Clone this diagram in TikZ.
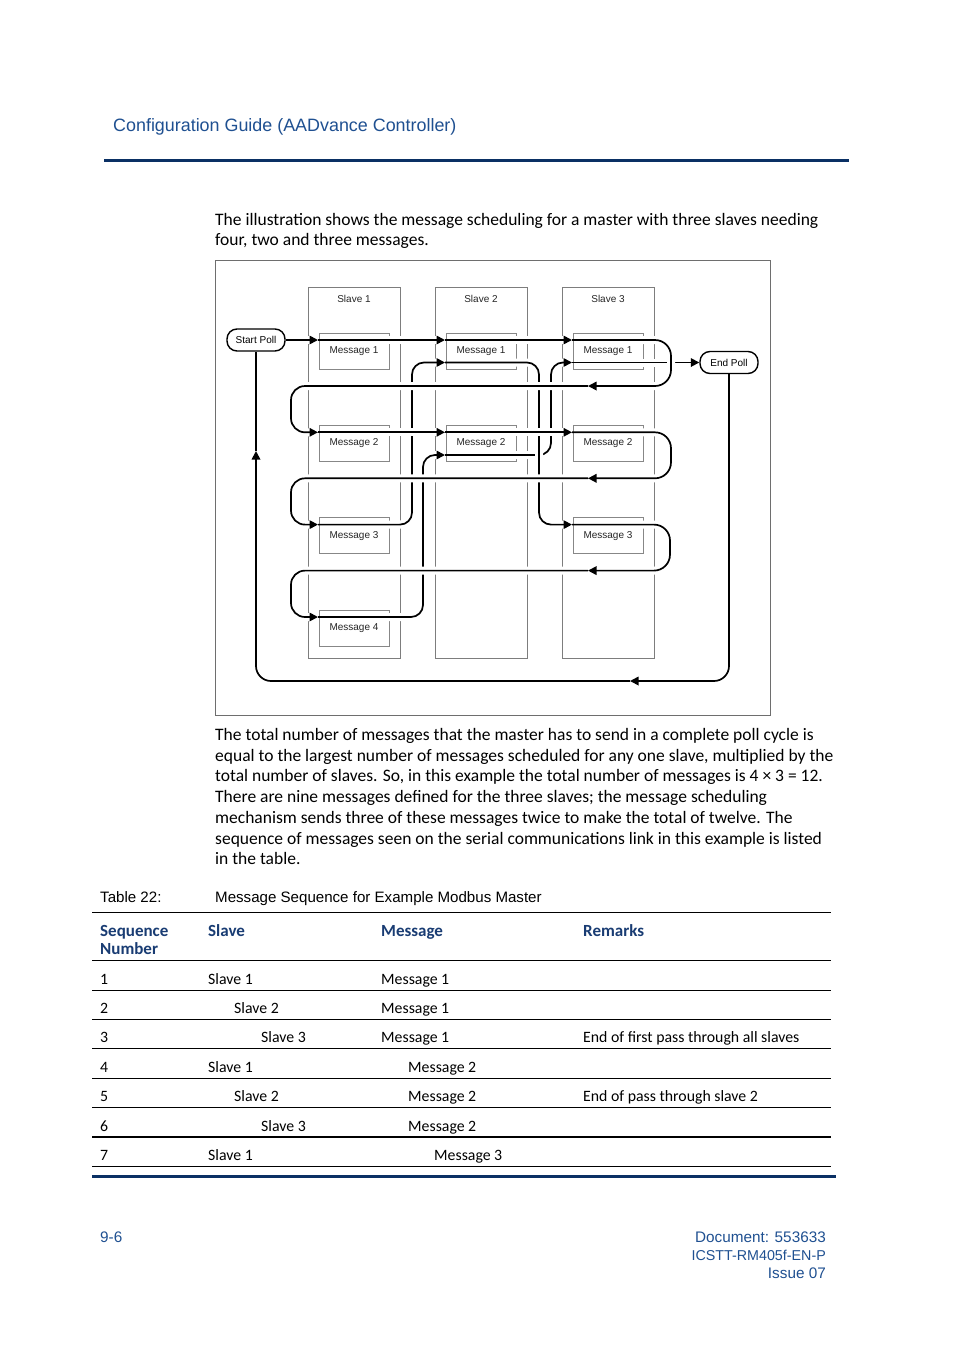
\documentclass[tikz,border=0pt]{standalone}
\usepackage{fontspec}
\setmainfont{Carlito}
\newfontfamily\hfont{Liberation Sans}
\usetikzlibrary{arrows.meta,calc}
\definecolor{hdrblue}{RGB}{31,80,145}
\definecolor{navy}{RGB}{10,48,100}
\definecolor{thblue}{RGB}{25,60,115}
\definecolor{colgray}{RGB}{125,125,125}
\definecolor{boxgray}{RGB}{135,135,135}
\definecolor{framegray}{RGB}{110,110,110}
\begin{document}
\begin{tikzpicture}[x=1pt,y=-1pt,
  flow/.style={line width=1.7pt, black, rounded corners=#1,
     preaction={draw=white, line width=8pt, arrows=-, shorten <=2pt, shorten >=2pt}},
  flow/.default=14pt,
  arr/.style={-{Triangle[length=8.5pt,width=8.5pt]}},
  colline/.style={draw=colgray, line width=0.9pt},
  msg/.style={draw=boxgray, line width=0.9pt, minimum width=70pt, minimum height=36pt,
     inner sep=0pt, text=black!85, font=\hfont\fontsize{10}{12}\selectfont},
  lab/.style={inner sep=0pt, text=black!85, font=\hfont\fontsize{10}{12}\selectfont},
  poll/.style={draw=black, line width=1.4pt, rounded corners=10pt, minimum width=58pt,
     minimum height=22pt, inner sep=0pt, font=\hfont\fontsize{10}{12}\selectfont},
  body/.style={anchor=base west, inner sep=0pt, font=\fontsize{17.5}{20}\selectfont},
  tb/.style={anchor=base west, inner sep=0pt, font=\fontsize{15.8}{18}\selectfont},
  th/.style={anchor=base west, inner sep=0pt, text=thblue, font=\bfseries\fontsize{17}{18}\selectfont},
  foot/.style={inner sep=0pt, text=hdrblue, font=\hfont\fontsize{15.3}{18}\selectfont},
  rule/.style={draw=black, line width=1pt}
]
\useasboundingbox[fill=white] (0,0) rectangle (954,1349);

% ---------- header ----------
\node[anchor=base west, inner sep=0pt, text=hdrblue, font=\hfont\fontsize{17.9}{20}\selectfont] (hdr) at (113,131) {Configuration Guide (AADvance Controller)};
\draw[navy, line width=3pt] (104,160) -- (849,160);

% ---------- paragraph 1 ----------
\node[body] (p1a) at (215,225) {The illustration shows the message scheduling for a master with three slaves needing};
\node[body] (p1b) at (215,245.6) {four, two and three messages.};

% ---------- diagram ----------
\draw[draw=framegray, line width=1pt] (215,260) rectangle (770,715);
\draw[colline] (308,287) rectangle (400,658);
\draw[colline] (435,287) rectangle (527,658);
\draw[colline] (562,287) rectangle (654,658);
\node[lab] (s1) at (354,299) {Slave 1};
\node[lab] (s2) at (481,299) {Slave 2};
\node[lab] (s3) at (608,299) {Slave 3};

\node[msg] (m11) at (354,351) {Message 1};
\node[msg] (m21) at (481,351) {Message 1};
\node[msg] (m31) at (608,351) {Message 1};
\node[msg] (m12) at (354,443.3) {Message 2};
\node[msg] (m22) at (481,443.3) {Message 2};
\node[msg] (m32) at (608,443.3) {Message 2};
\node[msg] (m13) at (354,535.6) {Message 3};
\node[msg] (m33) at (608,535.6) {Message 3};
\node[msg] (m14) at (354,628) {Message 4};

\node[poll] (startp) at (256,340) {Start Poll};
\node[poll] (endp) at (729,362.5) {End Poll};

\coordinate (in11) at (318,340);
\coordinate (in21) at (445,340);
\coordinate (in31) at (572,340);
\coordinate (in12) at (318,432.3);
\coordinate (in22) at (445,432.3);
\coordinate (in32) at (572,432.3);
\coordinate (in13) at (318,524.6);
\coordinate (in33) at (572,524.6);
\coordinate (in14) at (318,617);
\coordinate (in21b) at (445,362.5);
\coordinate (in22b) at (445,455);
\coordinate (in31b) at (572,362.5);
\coordinate (ret1) at (588,386);
\coordinate (ret2) at (588,478.3);
\coordinate (ret3) at (588,570.6);
\coordinate (b1) at (630,681);
\coordinate (b2) at (256,451);

% vertical links (underneath)
\draw[flow=12pt,arr] (in22b) -- (551,455) -- (551,362.5) -- (in31b);
\draw[flow=12pt,arr] (in21b) -- (539,362.5) -- (539,524.6) -- (in33);
\draw[flow=12pt,arr] (in13) -- (412,524.6) -- (412,362.5) -- (in21b);
\draw[flow=12pt,arr] (in14) -- (423,617) -- (423,455) -- (in22b);
\draw[flow,arr] (in31b) -- (endp.west);

% return to start
\draw[flow=15pt,arr] (endp.south) -- (729,681) -- (b1);
\draw[flow=15pt,arr] (b1) -- (256,681) -- (b2);
\draw[flow] (b2) -- (startp.south);

% row passes (on top)
\draw[flow,arr] (startp.east) -- (in11);
\draw[flow,arr] (in11) -- (in21);
\draw[flow,arr] (in21) -- (in31);
\draw[flow=16pt,arr] (in31) -- (671,340) -- (671,386) -- (ret1);
\draw[flow,arr] (ret1) -- (291,386) -- (291,432.3) -- (in12);
\draw[flow,arr] (in12) -- (in22);
\draw[flow,arr] (in22) -- (in32);
\draw[flow=16pt,arr] (in32) -- (671,432.3) -- (671,478.3) -- (ret2);
\draw[flow,arr] (ret2) -- (291,478.3) -- (291,524.6) -- (in13);
\draw[flow=16pt,arr] (in33) -- (670,524.6) -- (670,570.6) -- (ret3);
\draw[flow,arr] (ret3) -- (291,570.6) -- (291,617) -- (in14);

% ---------- paragraph 2 ----------
\node[body] (p2a) at (215,740.5) {The total number of messages that the master has to send in a complete poll cycle is};
\node[body] (p2b) at (215,761.2) {equal to the largest number of messages scheduled for any one slave, multiplied by the};
\node[body] (p2c) at (215,781.9) {total number of slaves. So, in this example the total number of messages is 4 × 3 = 12.};
\node[body] (p2d) at (215,802.6) {There are nine messages defined for the three slaves; the message scheduling};
\node[body] (p2e) at (215,823.3) {mechanism sends three of these messages twice to make the total of twelve. The};
\node[body] (p2f) at (215,844) {sequence of messages seen on the serial communications link in this example is listed};
\node[body] (p2g) at (215,864.7) {in the table.};

% ---------- table ----------
\node[anchor=base west, inner sep=0pt, font=\hfont\fontsize{15.1}{18}\selectfont] (tcap) at (100,902.7) {Table 22:};
\node[anchor=base west, inner sep=0pt, font=\hfont\fontsize{15.1}{18}\selectfont] (ttitle) at (215,902.7) {Message Sequence for Example Modbus Master};
\draw[rule] (92,912.3) -- (831,912.3);
\node[th] (h1) at (100,936.7) {Sequence};
\node[th] (h1b) at (100,954) {Number};
\node[th] (h2) at (208,936.7) {Slave};
\node[th] (h3) at (381,936.7) {Message};
\node[th] (h4) at (583,936.7) {Remarks};
\draw[rule] (92,960.3) -- (831,960.3);

\node[tb] (r1a) at (100,984) {1};
\node[tb] (r1b) at (208,984) {Slave 1};
\node[tb] (r1c) at (381,984) {Message 1};
\draw[rule] (92,990.3) -- (831,990.3);
\node[tb] (r2a) at (100,1013.3) {2};
\node[tb] (r2b) at (234,1013.3) {Slave 2};
\node[tb] (r2c) at (381,1013.3) {Message 1};
\draw[rule] (92,1019.3) -- (831,1019.3);
\node[tb] (r3a) at (100,1042.7) {3};
\node[tb] (r3b) at (261,1042.7) {Slave 3};
\node[tb] (r3c) at (381,1042.7) {Message 1};
\node[tb] (r3d) at (583,1042.7) {End of first pass through all slaves};
\draw[rule] (92,1048.7) -- (831,1048.7);
\node[tb] (r4a) at (100,1072.3) {4};
\node[tb] (r4b) at (208,1072.3) {Slave 1};
\node[tb] (r4c) at (408,1072.3) {Message 2};
\draw[rule] (92,1078.3) -- (831,1078.3);
\node[tb] (r5a) at (100,1101.7) {5};
\node[tb] (r5b) at (234,1101.7) {Slave 2};
\node[tb] (r5c) at (408,1101.7) {Message 2};
\node[tb] (r5d) at (583,1101.7) {End of pass through slave 2};
\draw[rule] (92,1107.7) -- (831,1107.7);
\node[tb] (r6a) at (100,1131) {6};
\node[tb] (r6b) at (261,1131) {Slave 3};
\node[tb] (r6c) at (408,1131) {Message 2};
\draw[black, line width=2.3pt] (92,1136.7) -- (831,1136.7);
\node[tb] (r7a) at (100,1160) {7};
\node[tb] (r7b) at (208,1160) {Slave 1};
\node[tb] (r7c) at (434,1160) {Message 3};
\draw[rule] (92,1166) -- (831,1166);
\draw[navy, line width=2.5pt] (92,1176.7) -- (836,1176.7);

% ---------- footer ----------
\node[foot, anchor=base west] (pg) at (100,1242) {9-6};
\node[foot, anchor=base east] (doc1) at (826,1242) {Document: 553633};
\node[foot, anchor=base east, font=\hfont\fontsize{14.3}{18}\selectfont] (doc2) at (826,1260) {ICSTT-RM405f-EN-P};
\node[foot, anchor=base east] (doc3) at (826,1278) {Issue 07};
\end{tikzpicture}
\end{document}
